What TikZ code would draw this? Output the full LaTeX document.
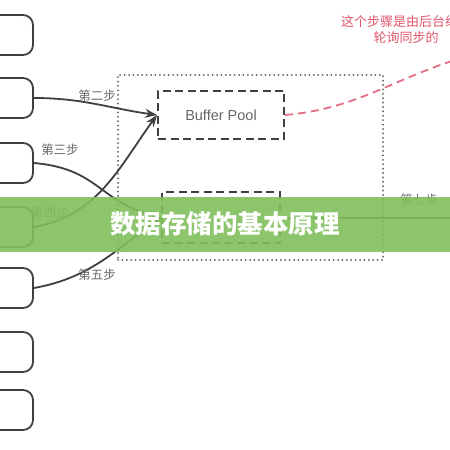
\documentclass[tikz,border=0pt]{standalone}
\usepackage{fontspec}
\setmainfont{Liberation Sans}
\newfontfamily\cjk{Noto Sans CJK SC}
\usetikzlibrary{arrows.meta}
\definecolor{linegray}{HTML}{404040}
\definecolor{textgray}{HTML}{6A6A6A}
\definecolor{notered}{HTML}{E0566C}
\definecolor{bannergreen}{HTML}{80BF5C}

\begin{document}
\begin{tikzpicture}
  [x=1pt,y=1pt,
   leftbox/.style={draw=linegray,line width=1.8pt,rounded corners=10pt,minimum width=94pt,minimum height=40pt},
   membox/.style={draw=linegray,line width=2pt,dash pattern=on 8pt off 4.5pt,inner sep=0pt},
   enginebox/.style={draw=linegray!85,line width=2pt,dash pattern=on 0pt off 4.4pt,line cap=round,inner sep=0pt},
   flow/.style={draw=linegray,line width=1.8pt,-{Stealth[length=12pt,width=9pt]}},
   steplabel/.style={text=textgray,font=\cjk\fontsize{12.5}{14}\selectfont,inner sep=0pt}]
  \useasboundingbox (0,0) rectangle (450,450);
  \clip (0,0) rectangle (450,450);
  \fill[white] (0,0) rectangle (450,450);

  \foreach \y [count=\i] in {415,352,287,223,162,98,40}
    \node[leftbox] (b\i) at (-14,\y) {};

  \node[enginebox,minimum width=265pt,minimum height=185pt] (engine) at (250.5,282.5) {};
  \node[membox,minimum width=126pt,minimum height=48pt,text=linegray!80,font=\fontsize{14.5}{16}\selectfont] (pool) at (221,335) {Buffer Pool};
  \node[membox,minimum width=118pt,minimum height=51pt] (logbuf) at (221,232) {};
  \coordinate (out7) at (460,232);
  \coordinate (sync) at (455,390);

  \draw[flow] (b2.east) to[out=0,in=172] (pool.west);
  \draw[flow] (b4.east) to[out=10,in=234] (pool.west);
  \draw[flow] (b3.east) to[out=-5,in=165,looseness=1.2] (logbuf.west);
  \draw[flow] (b5.east) to[out=10,in=215] (logbuf.west);
  \draw[linegray,line width=1.8pt] (logbuf.east) -- (out7);
  \draw[notered!85,line width=1.8pt,dash pattern=on 8pt off 5pt] (pool.east) to[out=5,in=198] (sync);

  \node[steplabel] (l2) at (97,354) {第二步};
  \node[steplabel] (l3) at (60,300) {第三步};
  \node[steplabel] (l4) at (50,237) {第四步};
  \node[steplabel] (l5) at (97,175) {第五步};
  \node[steplabel] (l7) at (419,250) {第七步};
  \node[text=notered,font=\cjk\fontsize{13}{16}\selectfont,align=center,inner sep=0pt] (note) at (406,420) {这个步骤是由后台线程\\轮询同步的};

  \fill[bannergreen,opacity=0.9] (0,198) rectangle (450,253);
  \node[text=white,font=\cjk\bfseries\fontsize{25.5}{28}\selectfont,inner sep=0pt] (title) at (225,226) {数据存储的基本原理};
\end{tikzpicture}
\end{document}
